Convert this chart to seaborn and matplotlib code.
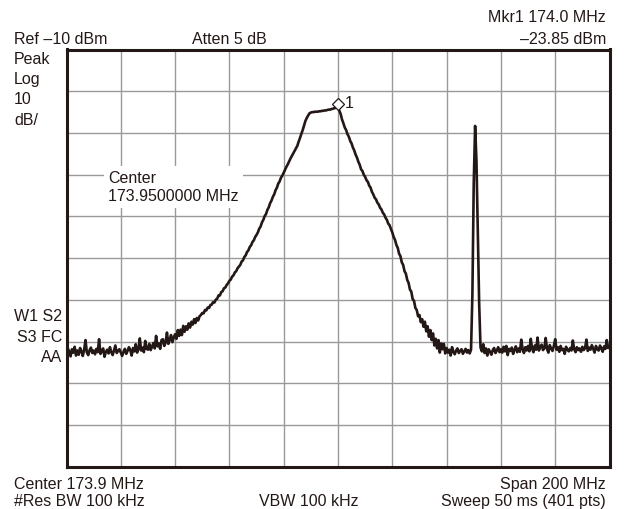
import numpy as np
import pandas as pd
import seaborn as sns
import matplotlib.pyplot as plt

# sweep settings shown on the analyzer screen
center_mhz = 173.9
span_mhz = 200.0
n_points = 401
ref_dbm = -10
db_per_div = 10

# trace level (dBm) for each of the 401 sweep points
level_dbm = [
    -82.9, -81.6, -82.4, -83.5, -81.8, -82.6, -81.2, -83.3, -82.1, -83.1, -81.5, -82.3, -83.4, -81.9, -79.6, -82.6, -83.2, -82.0, -81.4, -82.7,
    -82.1, -83.0, -81.7, -82.5, -79.4, -82.9, -82.2, -81.6, -83.6, -82.4, -81.9, -82.8, -81.3, -82.5, -83.2, -82.0, -80.9, -82.7, -82.2, -81.8,
    -82.6, -83.4, -82.4, -81.7, -82.9, -82.2, -81.3, -82.0, -83.3, -81.5, -82.3, -80.6, -82.6, -81.8, -79.2, -82.1, -81.4, -82.5, -79.8, -81.7,
    -81.9, -80.5, -82.0, -81.2, -80.3, -81.6, -78.6, -81.1, -80.4, -81.7, -79.6, -79.4, -81.0, -80.2, -77.8, -80.5, -79.6, -78.4, -80.1, -79.0,
    -78.2, -79.3, -77.2, -78.6, -77.1, -78.4, -76.2, -77.6, -76.3, -77.1, -75.6, -76.6, -75.2, -75.9, -74.6, -75.5, -74.3, -74.9, -73.9, -73.6,
    -73.1, -73.2, -72.4, -72.5, -71.8, -71.9, -71.2, -71.1, -70.5, -70.6, -69.9, -69.7, -68.9, -68.9, -68.1, -67.9, -67.2, -67.0, -66.4, -66.0,
    -65.4, -65.1, -64.4, -64.1, -63.4, -63.1, -62.4, -62.0, -61.6, -60.8, -60.5, -59.7, -59.3, -58.5, -58.1, -57.3, -56.9, -56.1, -55.7, -54.9,
    -54.4, -53.8, -52.9, -52.4, -51.4, -50.8, -49.9, -49.4, -48.4, -47.8, -46.8, -46.2, -45.3, -44.7, -43.7, -43.1, -42.1, -41.6, -40.7, -40.2,
    -39.5, -38.8, -38.1, -37.5, -36.8, -36.1, -35.5, -34.9, -34.3, -33.7, -33.1, -32.1, -31.2, -30.2, -29.3, -28.2, -27.1, -26.4, -25.8, -25.3,
    -25.1, -25.0, -25.0, -24.9, -24.9, -24.9, -24.8, -24.8, -24.7, -24.7, -24.6, -24.6, -24.5, -24.4, -24.4, -24.3, -24.2, -24.1, -24.0, -23.9,
    -23.85, -24.7, -25.5, -26.8, -27.7, -28.7, -29.3, -30.3, -30.9, -31.9, -32.5, -33.5, -34.2, -35.2, -35.9, -36.9, -37.6, -38.7, -39.1, -40.0,
    -40.5, -41.3, -41.7, -42.6, -43.1, -44.1, -44.7, -45.5, -45.9, -46.7, -47.1, -47.9, -48.3, -49.1, -49.5, -50.3, -50.8, -51.7, -52.1, -53.0,
    -53.8, -54.9, -55.6, -56.8, -57.5, -58.9, -59.5, -61.0, -61.6, -63.1, -63.7, -65.2, -65.9, -67.5, -68.0, -69.8, -70.2, -71.9, -72.4, -73.9,
    -73.6, -75.3, -74.6, -76.4, -75.2, -77.5, -76.3, -78.8, -77.2, -79.6, -78.0, -80.9, -79.3, -81.6, -79.6, -82.6, -80.4, -81.8, -80.5, -82.8,
    -81.5, -82.6, -81.9, -83.3, -81.3, -82.4, -83.0, -82.1, -81.6, -82.7, -82.2, -81.8, -82.9, -82.3, -81.7, -82.6, -82.0, -82.8, -81.9, -68.7,
    -42.0, -28.3, -36.7, -53.5, -71.0, -81.4, -82.3, -80.6, -82.7, -81.6, -83.3, -81.8, -82.4, -83.1, -82.0, -81.5, -82.7, -82.1, -81.3, -82.5,
    -81.8, -82.6, -81.2, -82.3, -81.0, -83.2, -81.7, -82.2, -81.4, -82.9, -81.9, -81.1, -82.5, -81.6, -82.4, -79.5, -81.8, -82.7, -81.3, -82.1,
    -81.0, -82.3, -79.3, -81.7, -82.5, -80.9, -81.9, -79.0, -82.1, -81.2, -80.7, -82.0, -81.5, -79.1, -81.8, -82.6, -80.8, -81.6, -82.2, -81.0,
    -79.4, -81.9, -81.3, -82.4, -81.0, -82.0, -81.7, -82.9, -81.2, -81.9, -82.3, -81.5, -82.1, -79.7, -81.8, -82.5, -81.3, -82.0, -81.6, -82.4,
    -81.2, -82.0, -81.5, -79.5, -82.2, -81.4, -81.9, -80.8, -81.7, -82.6, -81.0, -81.8, -82.1, -80.9, -81.6, -82.4, -81.1, -81.7, -79.6, -81.5,
    -81.3,
]

# marker 1
marker_mhz = 174.0
marker_dbm = -23.85

# screen annotations
top_left = ["Peak", "Log", "10", "dB/"]
side_left = ["W1 S2", "S3 FC", "AA"]

start_mhz = center_mhz - span_mhz / 2
stop_mhz = center_mhz + span_mhz / 2
freq_mhz = start_mhz + np.arange(n_points) * span_mhz / (n_points - 1)
df = pd.DataFrame({"freq": freq_mhz, "level": level_dbm})

sns.set_style("white")
plt.rcParams["font.family"] = ["Liberation Sans", "DejaVu Sans"]

W, H = 624, 509
fig = plt.figure(figsize=(W / 100, H / 100), dpi=100)
left, right, top, bottom = 66.5, 609.5, 49.5, 467
ax = fig.add_axes([left / W, 1 - bottom / H, (right - left) / W, (bottom - top) / H])

sns.lineplot(data=df, x="freq", y="level", color="#231816", linewidth=1.9, ax=ax, zorder=3)

ax.set_xlim(start_mhz, stop_mhz)
ax.set_ylim(ref_dbm - 10 * db_per_div, ref_dbm)
ax.set_xticks(np.linspace(start_mhz, stop_mhz, 11))
ax.set_yticks(np.arange(ref_dbm - 10 * db_per_div, ref_dbm + 1, db_per_div))
ax.grid(True, color="#999999", linewidth=1.0)
ax.tick_params(length=0, labelbottom=False, labelleft=False)
ax.set_xlabel("")
ax.set_ylabel("")
for s in ax.spines.values():
    s.set_visible(True)
    s.set_color("#231816")
    s.set_linewidth(2.2)

# marker diamond
ax.plot(marker_mhz, marker_dbm + 0.8, marker="D", ms=6, mfc="white", mec="#231816", mew=0.9, zorder=4)
ax.annotate("1", (marker_mhz, marker_dbm + 0.8), xytext=(5, 0), textcoords="offset points",
            fontsize=11.5, va="center", ha="left", color="#231816")

# center frequency note inside the graticule
ax.text(0.077, 0.71, "Center\n173.9500000 MHz", transform=ax.transAxes, fontsize=11.5,
        va="top", ha="left", linespacing=1.3, color="#231816", zorder=5,
        bbox=dict(facecolor="white", edgecolor="none", pad=3))


def ftext(x, y, s, ha="left"):
    fig.text(x / W, 1 - y / H, s, ha=ha, va="baseline", fontsize=11.5, color="#231816")


ftext(14, 43.5, "Ref \u201310 dBm")
ftext(192, 43.5, "Atten 5 dB")
ftext(606, 22.5, "Mkr1 174.0 MHz", ha="right")
ftext(606, 43.5, "\u201323.85 dBm", ha="right")
for i, s in enumerate(top_left):
    ftext(14, 63.5 + i * 20.4, s)
for i, s in enumerate(side_left):
    ftext(62, 321 + i * 20.5, s, ha="right")
ftext(14, 489, "Center 173.9 MHz")
ftext(14, 506, "#Res BW 100 kHz")
ftext(259, 506, "VBW 100 kHz")
ftext(606, 489, "Span 200 MHz", ha="right")
ftext(606, 506, "Sweep 50 ms (401 pts)", ha="right")

fig.savefig("out.png", dpi=100, facecolor="white")
